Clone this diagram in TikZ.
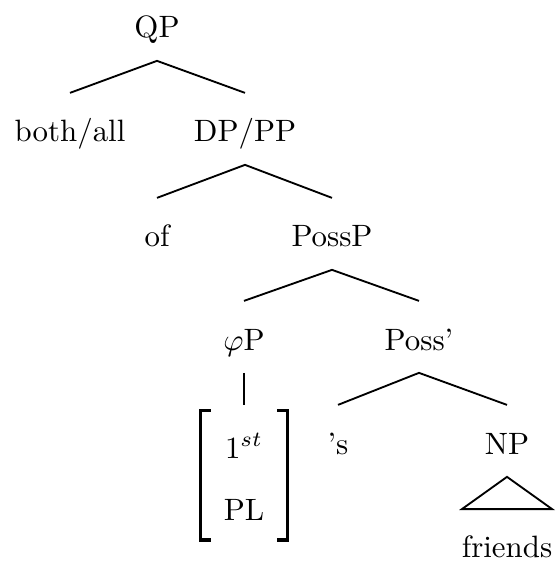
\documentclass[tikz,border=0pt]{standalone}
\begin{document}
\begin{tikzpicture}[x=0.3237pt,y=-0.3237pt,
  lbl/.style={anchor=base,inner sep=0pt,font=\fontsize{10}{12}\selectfont},
  edge/.style={line width=0.6pt},
  brack/.style={line width=1.05pt,line join=miter},
  featbox/.style={inner sep=0pt,minimum width=27.8pt,minimum height=41.6pt}]
\useasboundingbox (0,0) rectangle (556,567);
\node[lbl] (qp) at (157,38) {QP};
\node[lbl] (both) at (70,142) {both/all};
\node[lbl] (dp) at (245,142) {DP/PP};
\node[lbl] (of) at (157,247) {of};
\node[lbl] (possp) at (332,247) {PossP};
\node[lbl] (phip) at (244,350) {$\varphi$P};
\node[lbl] (possb) at (419,350) {Poss'};
\node[lbl] (s) at (338,454) {'s};
\node[lbl] (np) at (507,454) {NP};
\node[lbl] (fr) at (507,557) {friends};
% feature matrix
\node[featbox] (feat) at (244,475) {};
\node[lbl] (first) at (244,458) {$1^{st}$};
\node[lbl] (pl) at (244,520) {PL};
\draw[brack] ([xshift=3.4pt]feat.north west) -- (feat.north west) -- (feat.south west) -- ([xshift=3.4pt]feat.south west);
\draw[brack] ([xshift=-3.4pt]feat.north east) -- (feat.north east) -- (feat.south east) -- ([xshift=-3.4pt]feat.south east);
% tree lines
\draw[edge] ([yshift=15.9pt]both.base) -- ([yshift=-7.4pt]qp.base) -- ([yshift=15.9pt]dp.base);
\draw[edge] ([yshift=15.9pt]of.base) -- ([yshift=-7.4pt]dp.base) -- ([yshift=15.9pt]possp.base);
\draw[edge] ([yshift=15.9pt]phip.base) -- ([yshift=-7.4pt]possp.base) -- ([yshift=15.9pt]possb.base);
\draw[edge] ([yshift=15.9pt]s.base) -- ([yshift=-7.4pt]possb.base) -- ([yshift=15.9pt]np.base);
\draw[edge] ([yshift=-7.4pt]phip.base) -- ([yshift=1.7pt]feat.north);
\draw[edge] ([yshift=-7.4pt]np.base) -- ([xshift=-14.6pt,yshift=15.5pt]fr.base) -- ([xshift=14.6pt,yshift=15.5pt]fr.base) -- cycle;
\end{tikzpicture}
\end{document}
